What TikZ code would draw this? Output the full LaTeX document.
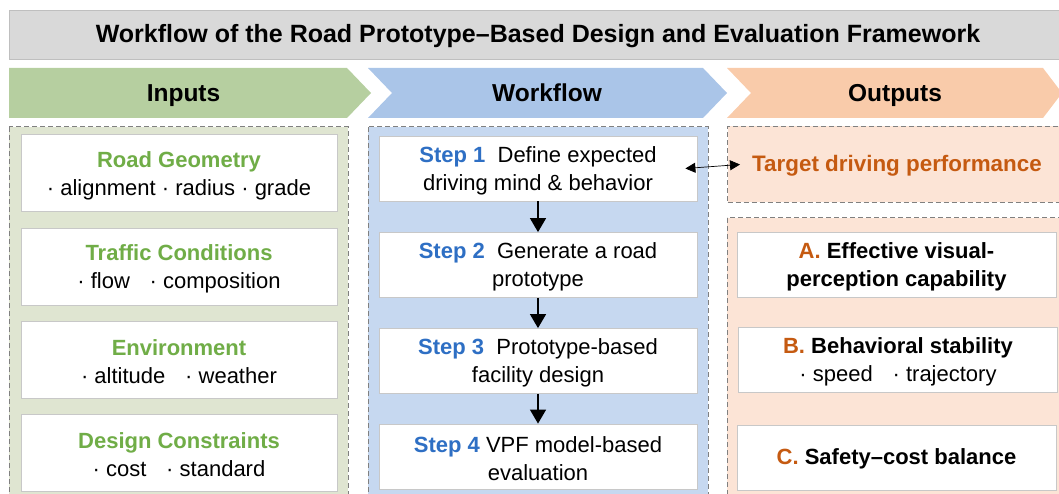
\documentclass[tikz,border=0pt]{standalone}
\usepackage{fontspec}
\setmainfont{Liberation Sans}
\usetikzlibrary{arrows.meta}

\definecolor{barfill}{HTML}{D9D9D9}
\definecolor{barline}{HTML}{BFBFBF}
\definecolor{chevgreen}{HTML}{B6CFA0}
\definecolor{chevblue}{HTML}{AAC5E8}
\definecolor{chevorange}{HTML}{F9CBAA}
\definecolor{panelgreen}{HTML}{DFE5D1}
\definecolor{panelblue}{HTML}{C6D8F0}
\definecolor{panelorange}{HTML}{FCE4D6}
\definecolor{dashgray}{HTML}{808080}
\definecolor{boxgray}{HTML}{C8C8C8}
\definecolor{txtgreen}{HTML}{70AD47}
\definecolor{txtblue}{HTML}{2E6FC4}
\definecolor{txtorange}{HTML}{C55A11}

\newcommand{\ittl}[1]{{\bfseries\color{txtgreen}#1}}
\newcommand{\stp}[1]{{\bfseries\color{txtblue}#1}}
\newcommand{\otg}[1]{{\color{txtorange}#1}}
\newcommand{\gap}{\hspace{0.9em}}

\tikzset{
  panel/.style={draw=dashgray, dash pattern=on 5pt off 3pt, line width=1pt},
  wbox/.style={draw=boxgray, fill=white, line width=0.8pt, inner sep=0pt},
  inbox/.style={wbox, minimum width=316pt, minimum height=77pt},
  stepbox/.style={wbox, minimum width=318pt, minimum height=65pt},
  outbox/.style={wbox, minimum width=319pt, minimum height=65pt},
  btext/.style={align=center, inner sep=0pt, font=\fontsize{22}{28}\selectfont},
  otext/.style={btext, font=\fontsize{22}{28}\selectfont\bfseries},
  head/.style={anchor=base, inner sep=0pt, font=\fontsize{24.5}{28}\selectfont\bfseries},
  flow/.style={line width=1.4pt, -{Triangle[width=16pt,length=14pt]}},
  link/.style={line width=0.7pt, {Triangle[width=10pt,length=10pt]}-{Triangle[width=10pt,length=10pt]}},
}

\begin{document}
\begin{tikzpicture}[x=1pt,y=-1pt]
\useasboundingbox (0,0) rectangle (1059,494);
\clip (0,0) rectangle (1059,494);

% title bar
\node[draw=barline, fill=barfill, line width=0.8pt, minimum width=1070pt, minimum height=49pt,
  anchor=north west, inner sep=0pt] (bar) at (9,10) {};
\node[head, font=\fontsize{25}{28}\selectfont\bfseries] (title) at (538,42.5)
  {Workflow of the Road Prototype–Based Design and Evaluation Framework};

% column headers
\fill[chevgreen] (9,68) -- (347,68) -- (371,93) -- (347,118) -- (9,118) -- cycle;
\fill[chevblue] (368,68) -- (703,68) -- (727,93) -- (703,118) -- (368,118) -- (392,93) -- cycle;
\fill[chevorange] (727,68) -- (1043,68) -- (1062,93) -- (1043,118) -- (727,118) -- (751,93) -- cycle;
\node[head] (hin) at (183.5,101.5) {Inputs};
\node[head] (hwf) at (547,101.5) {Workflow};
\node[head] (hout) at (895,101.5) {Outputs};

% background panels
\path[panel, fill=panelgreen] (9,127) rectangle (348,510);
\path[panel, fill=panelblue] (368,127) rectangle (708,510);
\node[panel, fill=panelorange, anchor=north west, minimum width=343pt, minimum height=76pt,
  inner sep=0pt] (target) at (727,126) {};
\path[panel, fill=panelorange] (727,218) rectangle (1075,510);
\node[font=\fontsize{22.4}{28}\selectfont\bfseries, text=txtorange, inner sep=0pt] (ttxt) at (897,166)
  {Target driving performance};

% inputs
\node[inbox] (geo) at (179,173) {};
\node[inbox] (traf) at (179,266.5) {};
\node[inbox] (env) at (179,359.5) {};
\node[inbox] (cons) at (179,452.5) {};
\node[btext] (geo-t) at ([yshift=-2.5pt]geo.center) {\ittl{Road Geometry}\\\textperiodcentered\ alignment \textperiodcentered\ radius \textperiodcentered\ grade};
\node[btext] (traf-t) at ([yshift=-2.5pt]traf.center) {\ittl{Traffic Conditions}\\\textperiodcentered\ flow\gap\textperiodcentered\ composition};
\node[btext] (env-t) at ([yshift=-2.5pt]env.center) {\ittl{Environment}\\\textperiodcentered\ altitude\gap\textperiodcentered\ weather};
\node[btext] (cons-t) at ([yshift=-2.5pt]cons.center) {\ittl{Design Constraints}\\\textperiodcentered\ cost\gap\textperiodcentered\ standard};

% workflow steps
\node[stepbox] (s1) at (538,168.5) {};
\node[stepbox] (s2) at (538,265) {};
\node[stepbox] (s3) at (538,361) {};
\node[stepbox] (s4) at (538,456.5) {};
\node[btext] (s1-t) at ([yshift=-2pt]s1.center) {\stp{Step 1}\ \ Define expected\\driving mind \& behavior};
\node[btext] (s2-t) at ([yshift=-2pt]s2.center) {\stp{Step 2}\ \ Generate a road\\prototype};
\node[btext] (s3-t) at ([yshift=-2pt]s3.center) {\stp{Step 3}\ \ Prototype-based\\facility design};
\node[btext] (s4-t) at ([yshift=-2pt]s4.center) {\stp{Step 4} VPF model-based\\evaluation};
\draw[flow] (s1) -- (s2);
\draw[flow] (s2) -- (s3);
\draw[flow] (s3) -- (s4);
\draw[link] ([xshift=-12pt]s1.east) -- ([xshift=13pt]target.west);

% outputs
\node[outbox] (oa) at (896.5,264.5) {};
\node[outbox] (ob) at (898,360) {};
\node[outbox] (oc) at (896.5,457.5) {};
\node[otext] (oa-t) at ([yshift=-2pt]oa.center) {\otg{A.} Effective visual-\\perception capability};
\node[otext] (ob-t) at ([yshift=-2pt]ob.center) {\otg{B.} Behavioral stability\\{\mdseries\textperiodcentered\ speed\gap\textperiodcentered\ trajectory}};
\node[otext] (oc-t) at ([yshift=-1pt]oc.center) {\otg{C.} Safety–cost balance};
\end{tikzpicture}
\end{document}
